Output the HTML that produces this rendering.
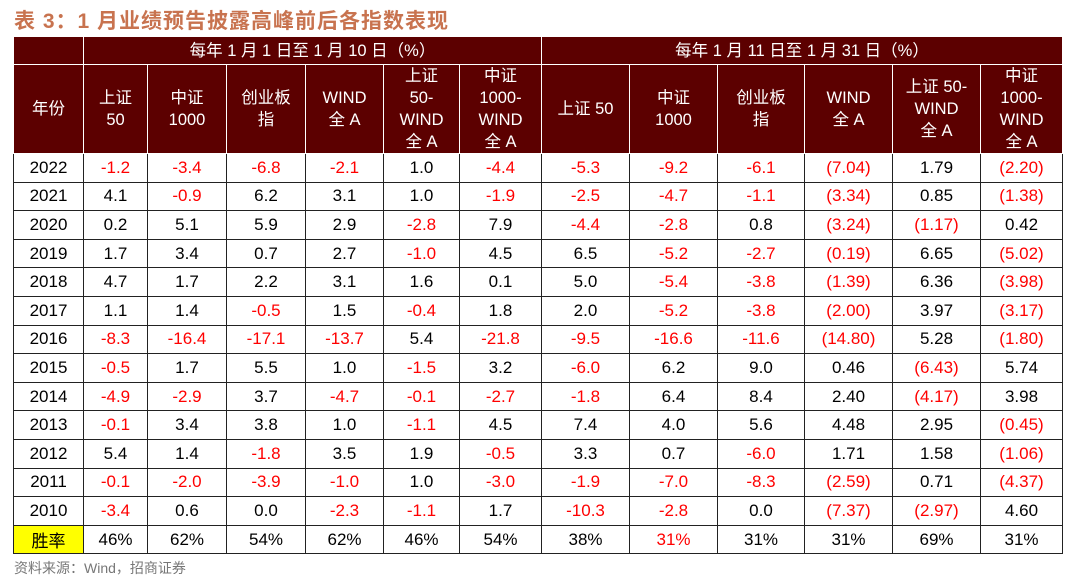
<!DOCTYPE html>
<html><head><meta charset="utf-8"><style>
body{margin:0;width:1080px;height:580px;background:#fff;font-family:"Liberation Sans","Noto Sans CJK SC",sans-serif;position:relative;overflow:hidden}
#title{position:absolute;left:14px;top:5px;font-size:21px;font-weight:bold;color:#c8734f;letter-spacing:1px}
table{position:absolute;left:13px;top:36px;border-collapse:collapse;table-layout:fixed}
td{border:1px solid #222;text-align:center;font-size:17px;padding:0;color:#000;overflow:hidden}
.h td{background:#5c0000;color:#fff;border-color:#fff;line-height:22px;font-size:16.5px}
tr.d td{height:27.6px}
.r{color:#ff0000}
#src{position:absolute;left:14px;top:558px;font-size:14px;color:#777}
</style></head><body>
<div id="title">表 3：1 月业绩预告披露高峰前后各指数表现</div>
<table>
<colgroup><col style="width:70px"><col style="width:64px"><col style="width:79px"><col style="width:79px"><col style="width:78px"><col style="width:76px"><col style="width:82px"><col style="width:88px"><col style="width:88px"><col style="width:87px"><col style="width:88px"><col style="width:88px"><col style="width:82px"></colgroup>
<tr class="h" style="height:28px"><td></td><td colspan="6">每年 1 月 1 日至 1 月 10 日（%）</td><td colspan="6">每年 1 月 11 日至 1 月 31 日（%）</td></tr>
<tr class="h" style="height:89px"><td>年份</td><td>上证<br>50</td><td>中证<br>1000</td><td>创业板<br>指</td><td>WIND<br>全 A</td><td>上证<br>50-<br>WIND<br>全 A</td><td>中证<br>1000-<br>WIND<br>全 A</td><td>上证 50</td><td>中证<br>1000</td><td>创业板<br>指</td><td>WIND<br>全 A</td><td>上证 50-<br>WIND<br>全 A</td><td>中证<br>1000-<br>WIND<br>全 A</td></tr>
<tbody id="body"></tbody>
</table>
<div id="src">资料来源：Wind，招商证券</div>
<script>
const years=["2022","2021","2020","2019","2018","2017","2016","2015","2014","2013","2012","2011","2010"];
const rows=[
["-1.2","-3.4","-6.8","-2.1","1.0","-4.4","-5.3","-9.2","-6.1","(7.04)","1.79","(2.20)"],
["4.1","-0.9","6.2","3.1","1.0","-1.9","-2.5","-4.7","-1.1","(3.34)","0.85","(1.38)"],
["0.2","5.1","5.9","2.9","-2.8","7.9","-4.4","-2.8","0.8","(3.24)","(1.17)","0.42"],
["1.7","3.4","0.7","2.7","-1.0","4.5","6.5","-5.2","-2.7","(0.19)","6.65","(5.02)"],
["4.7","1.7","2.2","3.1","1.6","0.1","5.0","-5.4","-3.8","(1.39)","6.36","(3.98)"],
["1.1","1.4","-0.5","1.5","-0.4","1.8","2.0","-5.2","-3.8","(2.00)","3.97","(3.17)"],
["-8.3","-16.4","-17.1","-13.7","5.4","-21.8","-9.5","-16.6","-11.6","(14.80)","5.28","(1.80)"],
["-0.5","1.7","5.5","1.0","-1.5","3.2","-6.0","6.2","9.0","0.46","(6.43)","5.74"],
["-4.9","-2.9","3.7","-4.7","-0.1","-2.7","-1.8","6.4","8.4","2.40","(4.17)","3.98"],
["-0.1","3.4","3.8","1.0","-1.1","4.5","7.4","4.0","5.6","4.48","2.95","(0.45)"],
["5.4","1.4","-1.8","3.5","1.9","-0.5","3.3","0.7","-6.0","1.71","1.58","(1.06)"],
["-0.1","-2.0","-3.9","-1.0","1.0","-3.0","-1.9","-7.0","-8.3","(2.59)","0.71","(4.37)"],
["-3.4","0.6","0.0","-2.3","-1.1","1.7","-10.3","-2.8","0.0","(7.37)","(2.97)","4.60"]];
const winRate=["46%","62%","54%","62%","46%","54%","38%","31%","31%","31%","69%","31%"];
const tb=document.getElementById('body');
years.forEach((y,i)=>{
 const tr=document.createElement('tr');tr.className='d';
 
 
 let h='<td>'+y+'</td>';
 rows[i].forEach(v=>{const neg=v[0]=='-'||v[0]=='(';h+='<td class="'+(neg?'r':'')+'">'+v+'</td>';});
 tr.innerHTML=h;tb.appendChild(tr);
});
const tr=document.createElement('tr');tr.className='d';


let h='<td style="background:#ffff00">胜率</td>';
winRate.forEach((v,j)=>{h+='<td class="'+(j==7?'r':'')+'">'+v+'</td>';});
tr.innerHTML=h;tb.appendChild(tr);
</script>
</body></html>
